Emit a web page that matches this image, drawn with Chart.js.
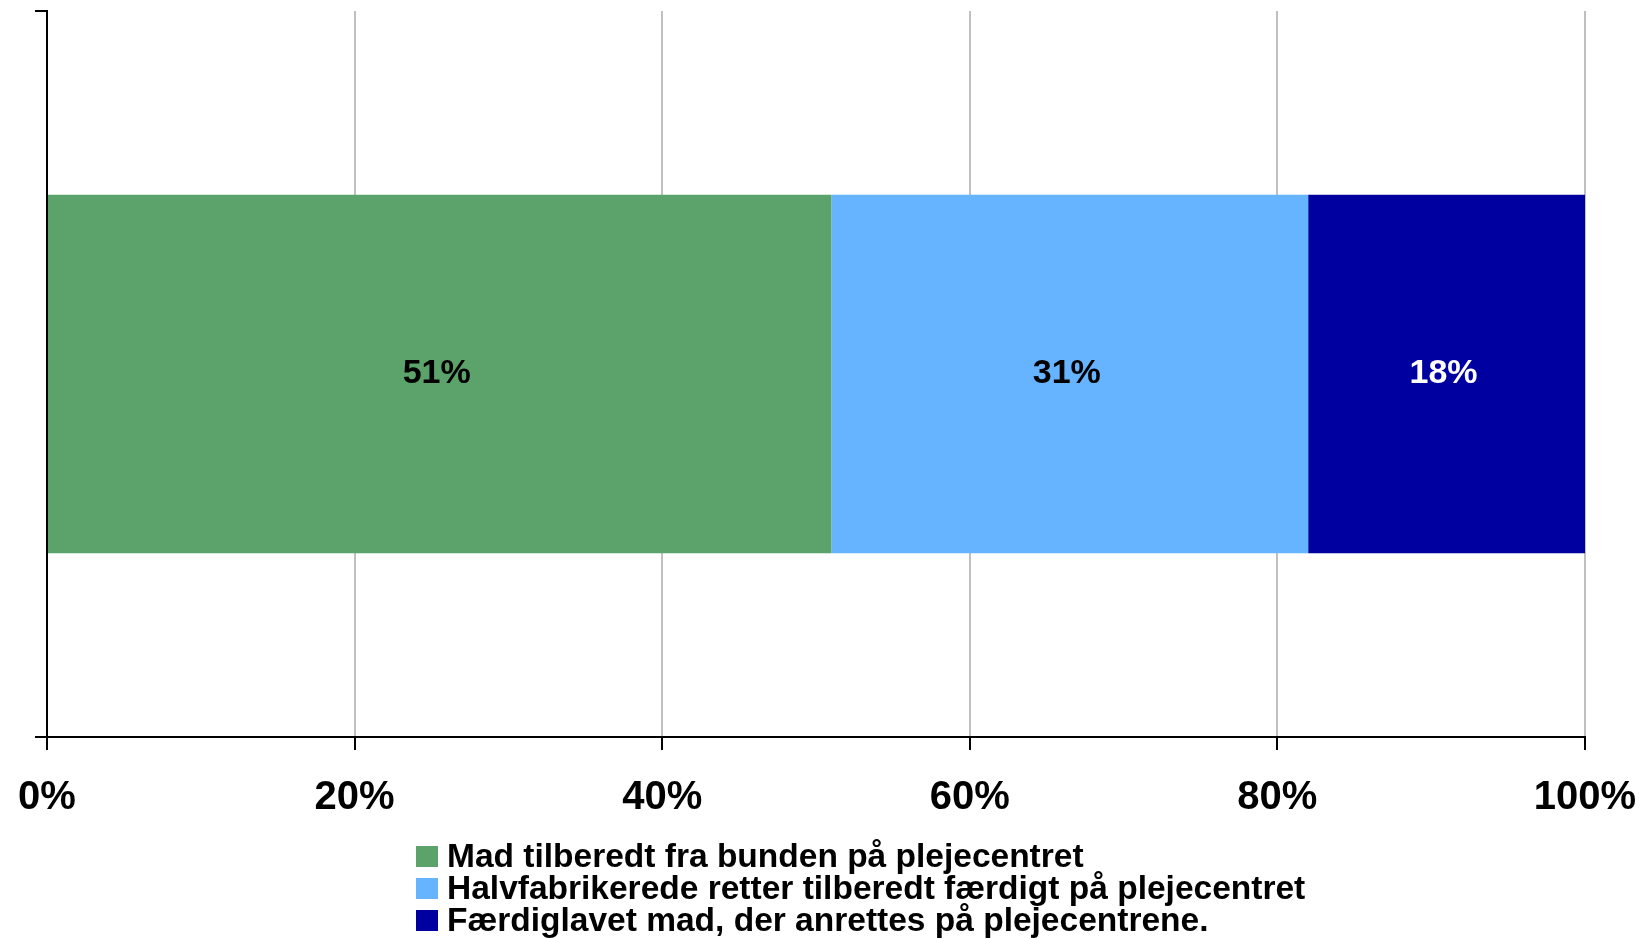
<!DOCTYPE html>
<html>
<head>
<meta charset="utf-8">
<script src="https://cdn.jsdelivr.net/npm/chart.js@4.4.1/dist/chart.umd.min.js"></script>
<style>
  html, body { margin: 0; padding: 0; background: #fff; }
  #wrap { width: 1639px; height: 938px; position: relative; }
</style>
</head>
<body>
<div id="wrap"><canvas id="chart"></canvas></div>
<script>
const categories = [""];
const seriesNames = [
    "Mad tilberedt fra bunden på plejecentret",
    "Halvfabrikerede retter tilberedt færdigt på plejecentret",
    "Færdiglavet mad, der anrettes på plejecentrene."
];
const seriesValues = [51, 31, 18];
const seriesColors = ["#5CA36B", "#66B3FF", "#0000A0"];
const labelColors = ["#000000", "#000000", "#ffffff"];
const xTicks = [0, 20, 40, 60, 80, 100];

const fontFam = "'Liberation Sans', Arial, sans-serif";

// value labels in the middle of each segment
const barLabels = {
    id: "barLabels",
    afterDatasetsDraw(chart) {
        const ctx = chart.ctx;
        ctx.save();
        ctx.font = "bold 34px " + fontFam;
        ctx.textAlign = "center";
        ctx.textBaseline = "middle";
        chart.data.datasets.forEach((ds, i) => {
            chart.getDatasetMeta(i).data.forEach((bar) => {
                ctx.fillStyle = labelColors[i];
                ctx.fillText(ds.data[0] + "%", (bar.x + bar.base) / 2 - 3, bar.y);
            });
        });
        ctx.restore();
    }
};

// legend as a left aligned column under the axis
const columnLegend = {
    id: "columnLegend",
    afterDraw(chart) {
        const ctx = chart.ctx;
        ctx.save();
        ctx.font = "bold 33.5px " + fontFam;
        ctx.textBaseline = "middle";
        ctx.textAlign = "left";
        chart.data.datasets.forEach((ds, i) => {
            const y = 846 + i * 32;
            ctx.fillStyle = ds.backgroundColor;
            ctx.fillRect(416, y, 22, 21);
            ctx.fillStyle = "#000";
            ctx.fillText(ds.label, 447, y + 12);
        });
        ctx.restore();
    }
};

const datasets = seriesNames.map((name, i) => ({
    label: name,
    data: [seriesValues[i]],
    backgroundColor: seriesColors[i],
    borderWidth: 0,
    categoryPercentage: 1,
    barPercentage: 0.494
}));

new Chart(document.getElementById("chart"), {
    type: "bar",
    data: { labels: categories, datasets: datasets },
    plugins: [barLabels, columnLegend],
    options: {
        indexAxis: "y",
        responsive: true,
        maintainAspectRatio: false,
        animation: false,
        layout: { padding: { left: 0, top: 11, right: 54, bottom: 111 } },
        plugins: {
            legend: { display: false },
            tooltip: { enabled: false }
        },
        scales: {
            x: {
                stacked: true,
                min: 0,
                max: 100,
                afterBuildTicks: (scale) => { scale.ticks = xTicks.map(v => ({ value: v })); },
                afterFit: (scale) => {
                    scale.height = 90;
                    scale.paddingLeft = 0;
                    scale.paddingRight = 0;
                },
                grid: {
                    color: "#C0C0C0",
                    lineWidth: 2,
                    tickColor: "#000",
                    tickLength: 13
                },
                border: { color: "#000", width: 2, z: 1 },
                ticks: {
                    padding: 24,
                    color: "#000",
                    font: { family: fontFam, size: 40, weight: "bold" },
                    callback: (v) => v + "%"
                }
            },
            y: {
                stacked: true,
                afterFit: (scale) => { scale.width = 47; },
                grid: {
                    offset: true,
                    drawOnChartArea: false,
                    color: "#000",
                    lineWidth: 2,
                    tickLength: 12
                },
                border: { color: "#000", width: 2, z: 1 },
                ticks: { display: false }
            }
        }
    }
});
</script>
</body>
</html>
